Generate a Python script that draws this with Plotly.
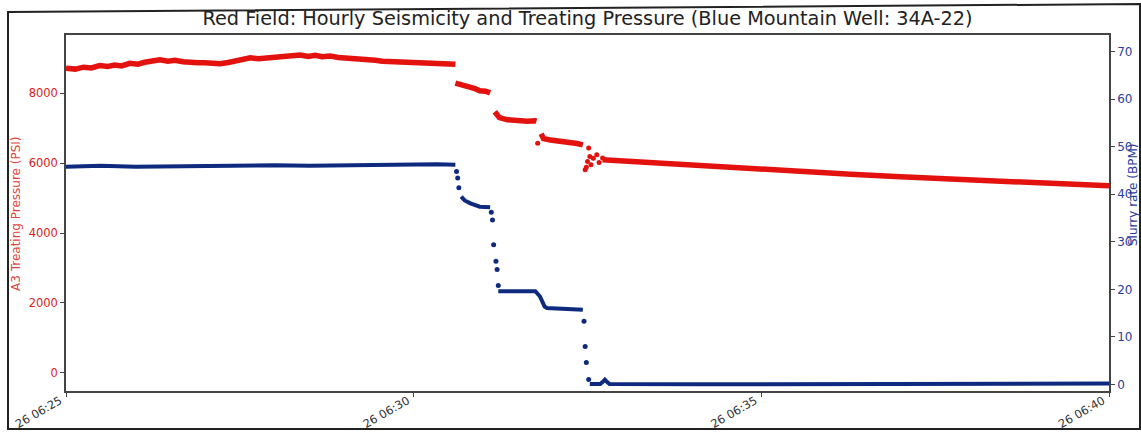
import pandas as pd
import plotly.graph_objects as go

BASE = "2021-01-26 06:25:00"

# ---- Treating pressure (PSI), continuous segments (seconds after 06:25:00) ----
red_line_t = [0, 8, 15, 22, 29, 36, 42, 48, 55, 62, 68, 74, 81, 88, 94, 101, 107, 114, 120, 126,
              133, 140, 146, 152, 159, 166, 172, 178, 185, 193, 202, 209, 215, 221, 228, 235, 241,
              247, 254, 261, 267, 273, 280, 286, 293, 299, 305, 312, 318, 324, 331, 336,
              None,
              336, 340, 344, 349, 353, 357, 362, 366,
              None,
              370, 372, 374, 381, 386, 392, 398, 405, 406,
              None,
              410, 412, 418, 424, 429, 435, 441, 446,
              None,
              463, 478, 504, 547, 590, 633, 677, 720, 763, 806, 849, 900]
red_line_v = [8714, 8690, 8745, 8725, 8790, 8765, 8805, 8780, 8855, 8830, 8885, 8900, 8955, 8915,
              8940, 8900, 8905, 8875, 8875, 8850, 8845, 8880, 8925, 8955, 9015, 8985, 9005, 9030,
              9055, 9065, 9095, 9055, 9085, 9045, 9065, 9025, 9015, 8985, 8975, 8955, 8945, 8915,
              8905, 8925, 8905, 8885, 8900, 8875, 8875, 8845, 8845, 8830,
              None,
              8290, 8260, 8230, 8190, 8130, 8070, 8060, 8010,
              None,
              7470, 7380, 7300, 7240, 7230, 7190, 7200, 7210, 7200,
              None,
              6840, 6700, 6660, 6640, 6620, 6600, 6560, 6520,
              None,
              6100, 6070, 6000, 5910, 5830, 5760, 5680, 5610, 5545, 5480, 5420, 5350]
# isolated pressure samples
red_dot_t = [407, 451, 448, 449, 450, 453, 452, 455, 458, 460, 463]
red_dot_v = [6570, 6430, 5810, 5880, 6050, 5950, 6190, 6140, 6240, 6020, 6150]

# ---- Slurry rate (BPM) ----
blue_line_t = [0, 30, 60, 90, 120, 150, 180, 210, 240, 270, 300, 320, 336,
               None,
               341, 344, 349, 353, 357, 366,
               None,
               373, 405, 409, 413, 415, 446,
               None,
               452, 461, 463, 465, 467, 469, 547, 677, 806, 900]
blue_line_v = [45.8, 46.0, 45.8, 45.9, 45.9, 46.0, 46.1, 46.0, 46.1, 46.2, 46.2, 46.3, 46.2,
               None,
               39.5, 38.7, 38.1, 37.7, 37.4, 37.3,
               None,
               19.6, 19.6, 18.5, 16.4, 16.1, 15.7,
               None,
               0.1, 0.1, 0.5, 1.0, 0.5, 0.1, 0.05, 0.1, 0.15, 0.2]
blue_dot_t = [337, 338, 339, 367, 368, 369, 371, 372, 373, 447, 448, 449, 451]
blue_dot_v = [44.8, 43.4, 41.4, 36.2, 34.6, 29.4, 25.9, 24.2, 20.8, 13.3, 8.0, 4.6, 1.05]

TITLE = "Red Field: Hourly Seismicity and Treating Pressure (Blue Mountain Well: 34A-22)"
LEFT_LABEL = "A3 Treating Pressure (PSI)"
RIGHT_LABEL = "Slurry rate (BPM)"
LEFT_TICKS = [0, 2000, 4000, 6000, 8000]
RIGHT_TICKS = [0, 10, 20, 30, 40, 50, 60, 70]


def to_time(secs):
    base = pd.Timestamp(BASE)
    return [None if s is None else base + pd.Timedelta(seconds=s) for s in secs]


RED = "#e3120f"
BLUE = "#0d2a7e"

fig = go.Figure()
fig.add_trace(go.Scatter(x=to_time(red_line_t), y=red_line_v, mode="lines",
                         line=dict(color=RED, width=5.5), connectgaps=False, yaxis="y"))
fig.add_trace(go.Scatter(x=to_time(red_dot_t), y=red_dot_v, mode="markers",
                         marker=dict(color=RED, size=5), yaxis="y"))
fig.add_trace(go.Scatter(x=to_time(blue_line_t), y=blue_line_v, mode="lines",
                         line=dict(color=BLUE, width=4), connectgaps=False, yaxis="y2"))
fig.add_trace(go.Scatter(x=to_time(blue_dot_t), y=blue_dot_v, mode="markers",
                         marker=dict(color=BLUE, size=5), yaxis="y2"))

W, H = 1141, 432
L, R, T, B = 66, 32, 35, 41
pw, ph = W - L - R, H - T - B


def px(x):
    return (x - L) / pw


def py(y):
    return (H - B - y) / ph


axis_line = dict(showline=True, linecolor="#444444", linewidth=1.5, showgrid=False,
                 zeroline=False, ticks="outside", ticklen=4, tickcolor="#444444",
                 automargin=False)

fig.update_layout(
    width=W, height=H,
    margin=dict(l=L, r=R, t=T, b=B),
    paper_bgcolor="white", plot_bgcolor="white",
    showlegend=False,
    font=dict(family="DejaVu Sans", size=11, color="#222222"),
    title=dict(text=TITLE, x=0.5, xanchor="center", xref="paper", y=1 - 18 / H,
               yanchor="middle", font=dict(size=19.3, color="#222222"), automargin=False),
    xaxis=dict(type="date", range=[to_time([0])[0], to_time([900])[0]],
               tickformat="%d %H:%M", tick0=to_time([0])[0], dtick=300000,
               tickangle=-30, mirror=True, tickfont=dict(size=11.5, color="#333333"),
               ticklabelstandoff=-7, ticklabelshift=-6,
               **axis_line),
    yaxis=dict(range=[-520, 9666], tickvals=LEFT_TICKS,
               tickfont=dict(size=11.5, color="#dd1c1a"), **axis_line),
    yaxis2=dict(range=[-1.37, 73.5], tickvals=RIGHT_TICKS, overlaying="y", side="right",
                tickfont=dict(size=12, color="#2a3d9c"), **axis_line),
    annotations=[
        dict(text=LEFT_LABEL, xref="paper", yref="paper", x=px(16), y=py(214),
             xanchor="center", yanchor="middle", textangle=-90, showarrow=False,
             font=dict(size=12, color="#e0463c")),
        dict(text=RIGHT_LABEL, xref="paper", yref="paper", x=px(1133), y=py(195),
             xanchor="center", yanchor="middle", textangle=-90, showarrow=False,
             font=dict(size=12, color="#2a3d9c")),
    ],
    shapes=[
        dict(type="path", xref="paper", yref="paper",
             path=f"M {px(8)},{py(12)} L {px(1140)},{py(4)} L {px(1140)},{py(429)} "
                  f"L {px(8)},{py(429)} Z",
             line=dict(color="#222222", width=2), fillcolor="rgba(0,0,0,0)", layer="above"),
    ],
)

fig.write_html("out.html")
